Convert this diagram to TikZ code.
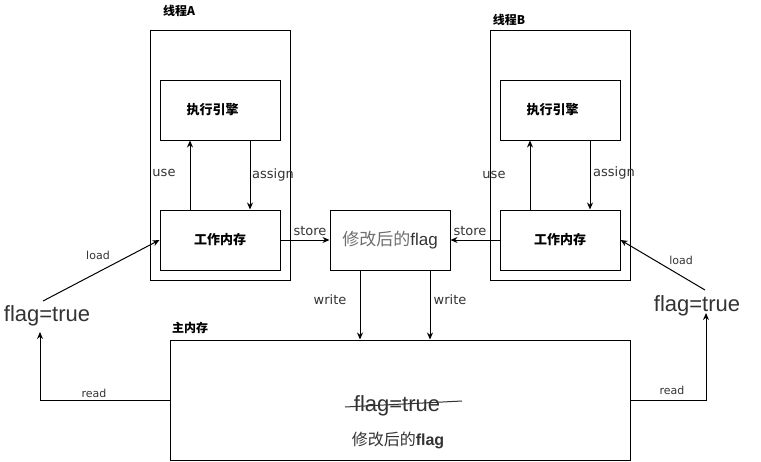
\documentclass[tikz,border=0pt]{standalone}
\usepackage{fontspec}
\setmainfont{DejaVu Sans}
\newfontfamily\cjk{Noto Sans CJK SC}
\newfontfamily\arial{Liberation Sans}
\usetikzlibrary{arrows.meta}
\definecolor{txt}{RGB}{51,51,51}
\definecolor{soft}{RGB}{110,110,110}
\begin{document}
\begin{tikzpicture}[x=1pt,y=-1pt,
  box/.style={draw, line width=1pt, inner sep=0pt},
  arr/.style={-{Stealth[length=7pt,width=6pt]}, line width=1pt},
  lbl/.style={text=txt, inner sep=0pt, font=\fontsize{13}{13}\selectfont},
  small/.style={text=txt, inner sep=0pt, font=\fontsize{11}{11}\selectfont},
  title/.style={inner sep=0pt, font=\cjk\bfseries\fontsize{12}{12}\selectfont},
  inbox/.style={inner sep=0pt, font=\cjk\bfseries\fontsize{13}{13}\selectfont},
  big/.style={text=txt, inner sep=0pt, font=\arial\fontsize{22}{22}\selectfont}]
\useasboundingbox (0,0) rectangle (761,461);

% thread A
\node[box, minimum width=140, minimum height=250] (thA) at (220,155) {};
\node[box, minimum width=120, minimum height=60] (engA) at (220,110) {};
\node[box, minimum width=120, minimum height=60] (memA) at (220,240) {};
\node[inbox] (engAt) at (212.5,110) {执行引擎};
\node[inbox] (memAt) at (220,240) {工作内存};
\node[title] (thAt) at (179,11) {线程A};

% thread B
\node[box, minimum width=140, minimum height=250] (thB) at (560,155) {};
\node[box, minimum width=120, minimum height=60] (engB) at (560,110) {};
\node[box, minimum width=120, minimum height=60] (memB) at (560,240) {};
\node[inbox] (engBt) at (552.5,110) {执行引擎};
\node[inbox] (memBt) at (560,240) {工作内存};
\node[title] (thBt) at (509,20) {线程B};

% modified flag
\node[box, minimum width=120, minimum height=60] (fbox) at (390,240) {};
\node[inner sep=0pt, font=\fontsize{17}{17}\selectfont] (fboxt) at (390,240)
  {{\cjk\color{soft}修改后的}{\arial\color{txt}flag}};

% main memory
\node[box, minimum width=460, minimum height=120] (mm) at (400,400) {};
\node[title] (mmt) at (190,328) {主内存};
\node[big] (oldflag) at (397,406) {flag=true};
\coordinate (stA) at (345,407);
\coordinate (stB) at (462,401);
\draw[txt, line width=1pt] (stA) -- (stB);
\node[inner sep=0pt, text=txt, font=\fontsize{16}{16}\selectfont] (newflag) at (398,440)
  {{\cjk 修改后的}{\arial\bfseries flag}};

% flag copies read by the threads
\node[big] (flagL) at (47,316) {flag=true};
\node[big] (flagR) at (697,306) {flag=true};
\coordinate (rdL) at (40,332);
\coordinate (rdR) at (706,313);
\coordinate (ldL) at (43,301);
\coordinate (ldR) at (705,290);

% thread A connectors
\draw[arr] ([xshift=-30pt]memA.north) -- ([xshift=-30pt]engA.south);
\draw[arr] ([xshift=30pt]engA.south) -- ([xshift=30pt]memA.north);
\draw[arr] (memA.east) -- (fbox.west);
\node[lbl] (useA) at (164,173) {use};
\node[lbl] (asgA) at (273,175) {assign};
\node[lbl] (stoA) at (310,231) {store};

% thread B connectors
\draw[arr] ([xshift=-30pt]memB.north) -- ([xshift=-30pt]engB.south);
\draw[arr] ([xshift=30pt]engB.south) -- ([xshift=30pt]memB.north);
\draw[arr] (memB.west) -- (fbox.east);
\node[lbl] (useB) at (494,175) {use};
\node[lbl] (asgB) at (614,173) {assign};
\node[lbl] (stoB) at (470,231) {store};

% write back
\draw[arr] ([xshift=-30pt]fbox.south) -- ([xshift=-30pt]fbox.south |- mm.north);
\draw[arr] ([xshift=40pt]fbox.south) -- ([xshift=40pt]fbox.south |- mm.north);
\node[lbl] (wrA) at (330,300) {write};
\node[lbl] (wrB) at (450,300) {write};

% read and load
\draw[arr] (mm.west) -| (rdL);
\draw[arr] (mm.east) -| (rdR);
\node[small] (rdLt) at (94,393) {read};
\node[small] (rdRt) at (672,390) {read};
\draw[arr] (ldL) -- (memA.west);
\draw[arr] (ldR) -- (memB.east);
\node[small] (ldLt) at (98,255) {load};
\node[small] (ldRt) at (681,260) {load};
\end{tikzpicture}
\end{document}
